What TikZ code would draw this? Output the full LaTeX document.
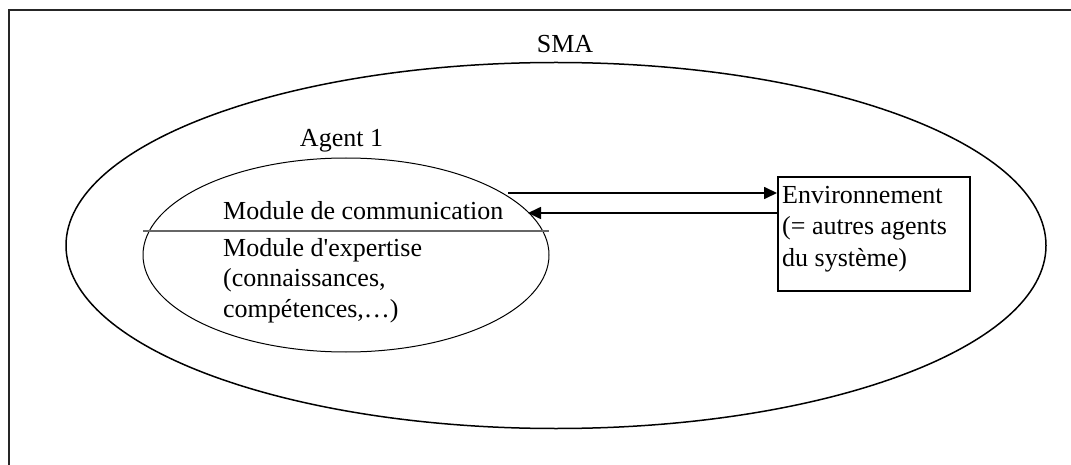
\documentclass[tikz,border=0pt]{standalone}
\usepackage{fontspec}
\setmainfont{Liberation Serif}
\usetikzlibrary{arrows.meta,shapes.geometric}
\begin{document}
\begin{tikzpicture}[x=1pt,y=-1pt,
  txt/.style={inner sep=0pt,anchor=base west,font=\fontsize{26}{30}\selectfont},
  ctxt/.style={inner sep=0pt,anchor=base,font=\fontsize{26}{30}\selectfont},
  shell/.style={draw,ellipse,inner sep=0pt},
  link/.style={line width=1.7pt,-{Triangle[length=13pt,width=12pt]}}]
\useasboundingbox (0,0) rectangle (1071,465);
% page frame (only top and left edges fall inside)
\draw[line width=1.8pt,black!85] (1071,10) -- (9,10) -- (9,465);

% multi-agent system
\node[shell,line width=1.5pt,minimum width=980pt,minimum height=366pt] (sma) at (556,245.5) {};
\node[ctxt] (smalabel) at (565,53) {SMA};

% agent
\node[shell,line width=1pt,minimum width=406pt,minimum height=194pt] (agent) at (346,255) {};
\node[ctxt] (agentlabel) at (341.5,147) {Agent 1};
\coordinate (divl) at (143,231);
\coordinate (divr) at (549,231);
\draw[line width=1.2pt,black!60] (divl) -- (divr);
\node[txt] (comm) at (223,220) {Module de communication};
\node[txt] (exp1) at (223,257) {Module d\textquotesingle expertise};
\node[txt] (exp2) at (223,287) {(connaissances,};
\node[txt] (exp3) at (223,317) {compétences,…)};

% environment
\node[draw,line width=2pt,anchor=north west,inner sep=0pt,
      minimum width=192pt,minimum height=114pt] (env) at (777,176) {};
\node[txt] (env1) at (782,204) {Environnement};
\node[txt] (env2) at (782,235) {(= autres agents};
\node[txt] (env3) at (782,266) {du système)};

% message exchange
\coordinate (out) at (508,193);
\coordinate (in) at (528,213);
\draw[link] (out) -- (out -| env.west);
\draw[link] (in -| env.west) -- (in);
\end{tikzpicture}
\end{document}
